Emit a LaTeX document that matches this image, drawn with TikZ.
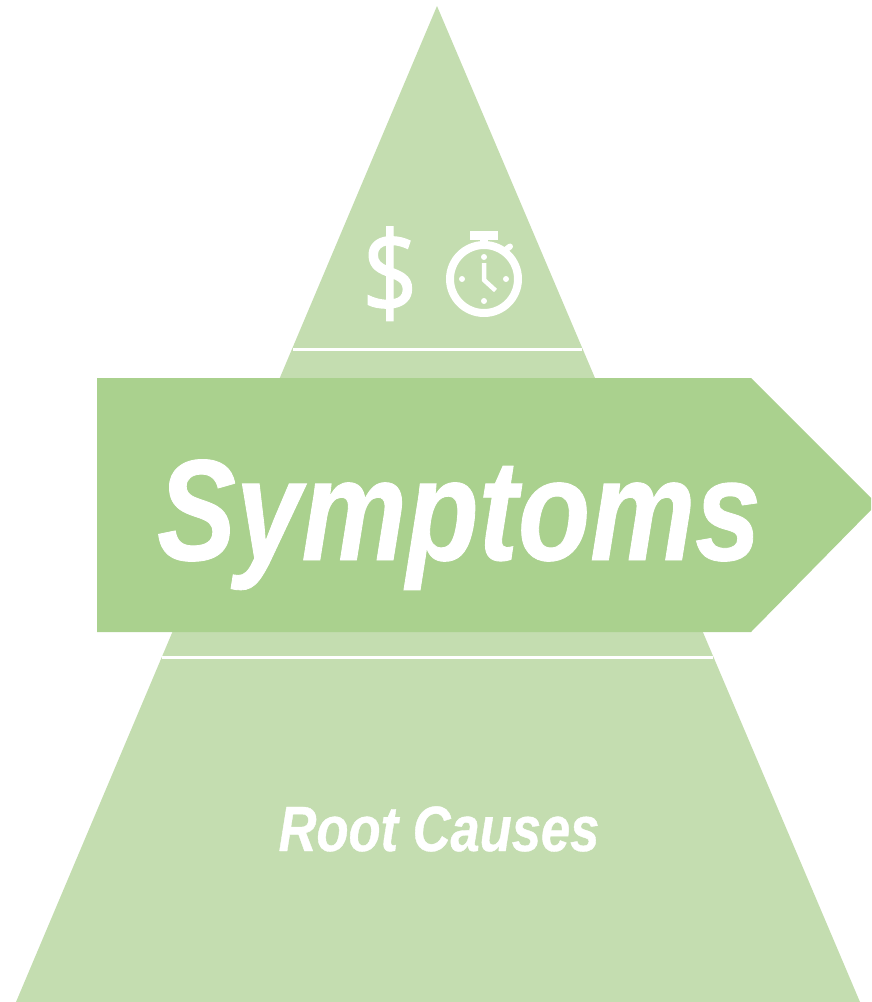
\documentclass[tikz,border=0pt]{standalone}
\usepackage{fontspec}
\setmainfont{Liberation Sans}
\newfontfamily\narrowfont[FakeStretch=0.82,BoldItalicFeatures={FakeBold=0.6}]{Liberation Sans}
\newfontfamily\iconfont[FakeStretch=0.85,FakeBold=1.2]{Open Sans}
\usetikzlibrary{positioning,calc}
\definecolor{pyramidgreen}{HTML}{C4DDB0}
\definecolor{arrowgreen}{HTML}{AAD18E}
\tikzset{
  whiteline/.style={draw=white, line width=3pt},
  watchline/.style={draw=white, line width=8pt},
  handline/.style={draw=white, line width=4.5pt, line join=miter}
}

\begin{document}
\begin{tikzpicture}[x=1pt,y=-1pt]
\useasboundingbox (0,0) rectangle (871,1002);
% Pyramid
\fill[pyramidgreen] (437,6) -- (860,1002) -- (16,1002) -- cycle;
% Lines across pyramid
\coordinate (ul) at (293,349.5);
\coordinate (ur) at (582,349.5);
\coordinate (ll) at (162,657.5);
\coordinate (lr) at (713,657.5);
\draw[whiteline] (ul) -- (ur);
\draw[whiteline] (ll) -- (lr);
% Arrow band
\fill[arrowgreen] (97,378) -- (751,378) -- (871,498) -- (871,510) -- (751,632) -- (97,632) -- cycle;
\node[font=\narrowfont\bfseries\itshape\fontsize{144}{144}\selectfont, text=white, anchor=base] (symptoms) at (459,560) {Symptoms};
\node[font=\narrowfont\bfseries\itshape\fontsize{64}{64}\selectfont, text=white, anchor=base] (causes) at (439,851) {Root Causes};
% Dollar sign
\node[font=\iconfont\fontsize{115}{115}\selectfont, text=white, anchor=base] (dollar) at (390,314) {\$};
% Stopwatch
\coordinate (watch) at (484,279);
\draw[watchline] (watch) circle (34);
\fill[white] (470,231) rectangle (498,239.5);
\fill[white] (480,239) rectangle (488,244);
\draw[white, line width=6pt, line cap=round] (503.5,251.5) -- (510,246.5);
\foreach \dx/\dy in {-22/0,22/0,0/22,0/-22} {
  \fill[white] ($(watch)+(\dx,\dy)$) circle (3);
}
\draw[handline] (484,263) -- (484,280) -- (495.5,290.5);
\end{tikzpicture}
\end{document}
